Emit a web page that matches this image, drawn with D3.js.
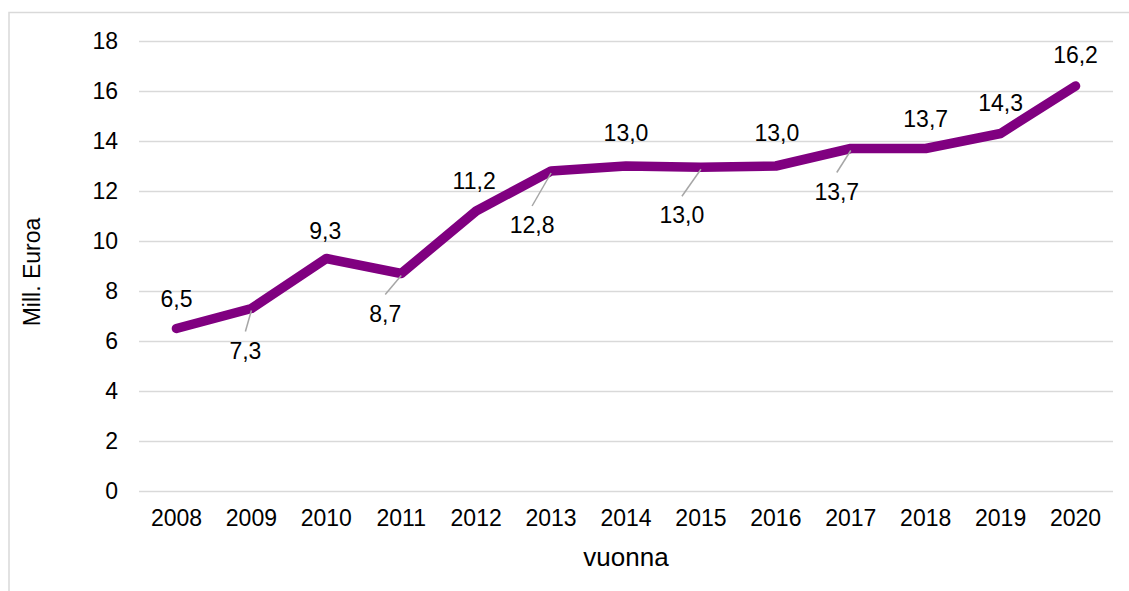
<!DOCTYPE html>
<html>
<head>
<meta charset="utf-8">
<script src="https://cdn.jsdelivr.net/npm/d3@7"></script>
<style>
  body { margin: 0; background: #fff; }
  text { font-family: "Liberation Sans", Arial, sans-serif; fill: #000; }
</style>
</head>
<body>
<div class="chart"></div>
<script>
// data
const years = ['2008','2009','2010','2011','2012','2013','2014','2015','2016','2017','2018','2019','2020'];
const values = [6.5, 7.3, 9.3, 8.7, 11.2, 12.8, 13.0, 12.95, 13.0, 13.7, 13.7, 14.3, 16.2];
const labels = ['6,5','7,3','9,3','8,7','11,2','12,8','13,0','13,0','13,0','13,7','13,7','14,3','16,2'];
const yTicks = [0, 2, 4, 6, 8, 10, 12, 14, 16, 18];

// label placement (dx, dy of label centre from point; leader when below)
const labelOffsets = [
  [0, -30], [-6, 42], [-1, -28], [-16, 40], [-2, -30], [-19, 54], [0, -33],
  [-19, 48], [1, -33], [-14, 43], [0, -30], [0, -31], [0, -31]
];

const W = 1129, H = 591;
const margin = {top: 41, right: 16, bottom: 100, left: 139};
const width = 1113 - margin.left,
      height = 491 - margin.top;

const svg = d3.select('.chart')
    .append('svg')
    .attr('width', W)
    .attr('height', H);

// outer frame
svg.append('rect')
    .attr('x', 9).attr('y', 12.5)
    .attr('width', W).attr('height', H)
    .attr('fill', 'none')
    .attr('stroke', '#d9d9d9')
    .attr('stroke-width', 1.5);

const g = svg.append('g')
    .attr('transform', 'translate(' + margin.left + ',' + margin.top + ')');

const xScale = d3.scaleBand()
    .domain(years)
    .range([0, width]);

const yScale = d3.scaleLinear()
    .domain([0, 18])
    .range([height, 0]);

// gridlines + y labels
const yAxis = gg => gg
    .call(d3.axisLeft(yScale).tickValues(yTicks).tickSize(-width).tickPadding(21))
    .call(gg => gg.select('.domain').remove())
    .call(gg => gg.selectAll('.tick line').attr('stroke', '#d9d9d9').attr('stroke-width', 1.5))
    .call(gg => gg.selectAll('.tick text')
        .attr('font-size', 23)
        .attr('font-family', '"Liberation Sans", Arial, sans-serif')
        .attr('fill', '#000'));

g.append('g').call(yAxis);

const xAxis = gg => gg
    .attr('transform', 'translate(0,' + height + ')')
    .call(d3.axisBottom(xScale).tickSize(0).tickPadding(19))
    .call(gg => gg.select('.domain').remove())
    .call(gg => gg.selectAll('.tick text')
        .attr('font-size', 23)
        .attr('font-family', '"Liberation Sans", Arial, sans-serif')
        .attr('fill', '#000'));

g.append('g').call(xAxis);

// axis titles
g.append('text')
    .attr('transform', 'translate(' + (32 - margin.left) + ',' + (272 - margin.top) + ') rotate(-90)')
    .attr('text-anchor', 'middle')
    .attr('dy', '0.35em')
    .attr('font-size', 23)
    .text('Mill. Euroa');

g.append('text')
    .attr('x', 626 - margin.left)
    .attr('y', 566 - margin.top)
    .attr('text-anchor', 'middle')
    .attr('font-size', 26)
    .text('vuonna');

const cx = i => xScale(years[i]) + xScale.bandwidth() / 2;
const cy = i => yScale(values[i]);

// line
const line = d3.line()
    .x((d, i) => cx(i))
    .y(d => yScale(d));

g.append('path')
    .datum(values)
    .attr('d', line)
    .attr('fill', 'none')
    .attr('stroke', '#800080')
    .attr('stroke-width', 9.5)
    .attr('stroke-linejoin', 'round')
    .attr('stroke-linecap', 'round');

// leader lines for labels placed below
const idx = d3.range(values.length);
g.append('g')
    .selectAll('line')
    .data(idx.filter(i => labelOffsets[i][1] > 0))
    .join('line')
    .attr('x1', i => cx(i))
    .attr('y1', i => cy(i) + 2)
    .attr('x2', i => cx(i) + labelOffsets[i][0])
    .attr('y2', i => cy(i) + labelOffsets[i][1] - 19)
    .attr('stroke', '#a6a6a6')
    .attr('stroke-width', 1.5);

// data labels
g.append('g')
    .selectAll('text')
    .data(idx)
    .join('text')
    .attr('x', i => cx(i) + labelOffsets[i][0])
    .attr('y', i => cy(i) + labelOffsets[i][1] + 8)
    .attr('text-anchor', 'middle')
    .attr('font-size', 23)
    .text(i => labels[i]);
</script>
</body>
</html>
